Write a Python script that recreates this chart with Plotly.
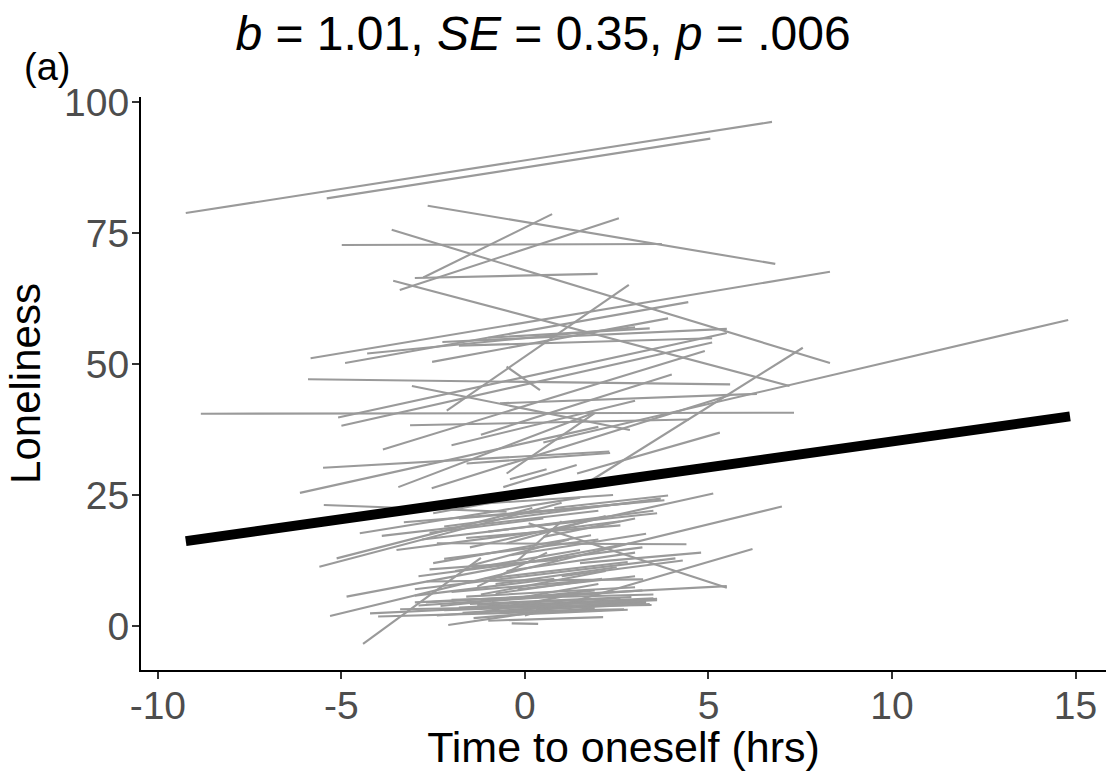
import plotly.graph_objects as go

# ---- per-person regression segments (Time to oneself, Loneliness) ----
x_start = [
    -9.24, -5.40, -2.65, -2.77, -3.41, -4.99, -3.63, -3.00, -3.59, -2.13,
    -5.84, -4.90, -2.53, -2.25, -1.80, -4.30, -1.00,
    -8.83, -5.91, -3.08, -5.09, -5.00, -3.13, -3.87, -5.50, -6.13, -3.45,
    -2.54, -0.59, -0.41, 1.40, 1.42, 0.50, -0.68, -0.50, -1.59, -0.50,
    -2.00, -1.20,
    -5.48, -4.50, -5.13, -5.60, -4.86, -5.31, -4.41, -4.00, -4.22, -3.40,
    -3.90, -3.50, -2.90, -3.00, -2.50, -2.20, -1.80, -2.40, -2.68, -2.09,
    -0.36, -3.00, 0.10, 0.00, -1.50, -2.00, -1.50, -1.00, -2.30, -1.20,
    -0.80, -1.90, -0.50, -2.50, -1.00, -3.20, -0.20, -1.30, 0.50, -1.70,
    -0.60, -0.30, 1.00, -2.80,
    -2.40, -1.80, -2.70, -1.40, -0.90, -2.00, -1.10, -2.60, -0.40, -1.60,
    -3.30, -0.70, 0.20, -2.20, -0.20, -1.50, -3.00, 0.50, -1.20, -0.50,
    -2.60, -1.90, 0.80, -0.30, 1.50,
    -2.20, -1.00, -0.20, -2.90, -1.60, 0.30, -0.80, -1.30,
]
y_start = [
    78.8, 81.6, 80.2, 66.5, 64.1, 72.7, 75.6, 66.4, 65.9, 41.1,
    51.1, 50.2, 50.4, 54.2, 53.5, 52.0, 55.0,
    40.5, 47.1, 45.8, 39.8, 38.2, 38.3, 33.7, 30.2, 25.4, 26.5,
    26.3, 26.5, 28.0, 26.0, 29.1, 35.0, 42.5, 29.1, 31.0, 49.5,
    34.5, 36.5,
    23.1, 17.7, 12.9, 11.3, 5.6, 1.9, -3.4, 1.8, 2.4, 3.2,
    17.2, 14.5, 9.5, 7.0, 12.0, 19.0, 20.5, 15.8, 8.5, 0.2,
    0.5, 4.5, 19.6, 2.0, 15.0, 5.0, 4.2, 1.0, 3.8, 6.0,
    8.0, 10.5, 10.5, 21.5, 18.0, 22.0, 12.5, 7.5, 17.0, 2.5,
    2.8, 5.2, 9.5, 16.5,
    2.0, 3.5, 4.5, 1.5, 4.8, 6.5, 9.0, 10.8, 13.5, 16.8,
    19.8, 21.0, 19.0, 12.8, 7.0, 11.5, 5.8, 4.0, 2.6, 15.8,
    17.8, 23.0, 22.5, 24.5, 12.0,
    3.0, 3.6, 2.2, 3.9, 5.6, 3.1, 6.2, 4.0,
]
x_end = [
    6.73, 5.05, 6.82, 0.74, 2.56, 3.73, 8.31, 1.98, 7.21, 2.83,
    8.31, 4.45, 3.90, 5.50, 5.10, 3.00, 3.40,
    7.33, 5.59, 2.86, 5.50, 5.10, 4.47, 4.90, 2.30, 2.00, 1.85,
    5.59, 1.41, 0.59, 7.57, 5.31, 14.80, 6.32, 1.90, 2.32, 0.41,
    3.00, 4.00,
    -0.50, 1.50, 0.20, 1.00, 2.86, 7.00, -1.20, 2.10, 3.54, 3.45,
    2.00, 2.60, 3.20, 4.10, 1.80, 3.70, 3.80, 4.40, 3.22, 0.05,
    0.36, 5.50, 5.50, 6.20, 5.13, 3.50, 2.90, 2.13, 1.90, 2.20,
    2.50, 1.50, 3.00, 1.00, 3.50, 0.50, 1.00, 0.60, 3.00, 3.30,
    2.70, 2.00, 4.30, 0.80,
    2.90, 3.50, 2.00, 1.90, 3.20, 1.60, 2.80, 0.90, 3.30, 2.60,
    1.80, 2.90, 3.60, 2.00, 3.00, 1.20, 0.80, 3.60, 1.00, 2.20,
    0.50, 2.40, 3.90, 2.00, 4.80,
    3.30, 3.60, 2.80, 1.40, 3.00, 3.40, 2.10, 2.60,
]
y_end = [
    96.2, 93.0, 69.1, 78.6, 77.8, 72.9, 50.2, 67.2, 45.8, 65.1,
    67.6, 61.8, 58.7, 56.7, 54.9, 57.0, 56.8,
    40.7, 46.1, 37.4, 55.9, 54.1, 39.4, 52.5, 33.3, 38.0, 40.6,
    44.1, 30.7, 29.9, 53.1, 36.9, 58.4, 44.3, 40.6, 33.0, 45.0,
    43.0, 48.0,
    21.8, 24.5, 22.5, 23.5, 15.8, 22.8, 13.0, 3.0, 5.0, 4.0,
    22.0, 20.0, 15.0, 12.9, 17.3, 24.3, 24.0, 15.6, 8.9, 2.4,
    0.4, 7.6, 7.3, 14.7, 25.3, 6.0, 5.5, 1.7, 6.8, 10.5,
    11.2, 14.5, 14.0, 26.0, 22.0, 25.0, 20.0, 14.0, 20.5, 4.6,
    3.2, 8.0, 12.5, 19.5,
    4.6, 5.3, 6.3, 3.4, 6.8, 8.6, 12.2, 12.6, 17.6, 19.2,
    22.7, 23.5, 21.5, 16.5, 9.5, 16.5, 9.0, 5.2, 5.6, 21.0,
    20.5, 25.0, 24.9, 27.0, 14.0,
    4.4, 4.9, 3.1, 6.0, 7.4, 4.2, 9.0, 5.3,
]

# ---- fixed (average) effect line ----
fixed_x = [-9.24, 14.85]
fixed_y = [16.2, 40.0]

x_ticks = [-10, -5, 0, 5, 10, 15]
x_tick_labels = ["-10", "-5", "0", "5", "10", "15"]
y_ticks = [0, 25, 50, 75, 100]
y_tick_labels = ["0", "25", "50", "75", "100"]

title_text = "<i>b</i> = 1.01, <i>SE</i> = 0.35, <i>p</i> = .006"
tag_text = "(a)"
x_title = "Time to oneself (hrs)"
y_title = "Loneliness"

# build one trace of separated segments
seg_x, seg_y = [], []
for x0, y0, x1, y1 in zip(x_start, y_start, x_end, y_end):
    seg_x += [x0, x1, None]
    seg_y += [y0, y1, None]

FONT = "Liberation Sans, Arial, sans-serif"

fig = go.Figure()
fig.add_trace(go.Scatter(x=seg_x, y=seg_y, mode="lines",
                         line=dict(color="#9a9a9a", width=2.1),
                         hoverinfo="skip", showlegend=False))
fig.add_trace(go.Scatter(x=fixed_x, y=fixed_y, mode="lines",
                         line=dict(color="black", width=10),
                         hoverinfo="skip", showlegend=False))

fig.update_layout(
    width=1106, height=771,
    margin=dict(l=141, r=0, t=97, b=101),
    paper_bgcolor="white", plot_bgcolor="white",
    font=dict(family=FONT),
    title=dict(text=title_text, x=543 / 1106, xanchor="center",
               y=1 - 33 / 771, yanchor="middle",
               font=dict(size=48, color="black", family=FONT)),
    annotations=[dict(text=tag_text, xref="paper", yref="paper",
                      x=(47 - 141) / 965, y=(670 - 67) / 573,
                      xanchor="center", yanchor="middle", showarrow=False,
                      font=dict(size=38, color="black", family=FONT))],
)
fig.update_xaxes(range=[-10.46, 15.83], tickmode="array", tickvals=x_ticks,
                 ticktext=x_tick_labels, showgrid=False, zeroline=False,
                 showline=True, linecolor="black", linewidth=2,
                 ticks="outside", ticklen=7, tickwidth=2, tickcolor="#333333",
                 ticklabelstandoff=-7,
                 tickfont=dict(size=39, color="#4d4d4d", family=FONT),
                 title=dict(text=x_title, standoff=4,
                            font=dict(size=43, color="black", family=FONT)))
fig.update_yaxes(range=[-8.40, 100.95], tickmode="array", tickvals=y_ticks,
                 ticktext=y_tick_labels, showgrid=False, zeroline=False,
                 showline=True, linecolor="black", linewidth=2,
                 ticks="outside", ticklen=7, tickwidth=2, tickcolor="#333333",
                 ticklabelstandoff=-5,
                 tickfont=dict(size=39, color="#4d4d4d", family=FONT),
                 title=dict(text=y_title, standoff=10,
                            font=dict(size=42, color="black", family=FONT)))

fig.write_html("out.html", config={"displayModeBar": False},
               post_script="document.body.style.margin='0';")
